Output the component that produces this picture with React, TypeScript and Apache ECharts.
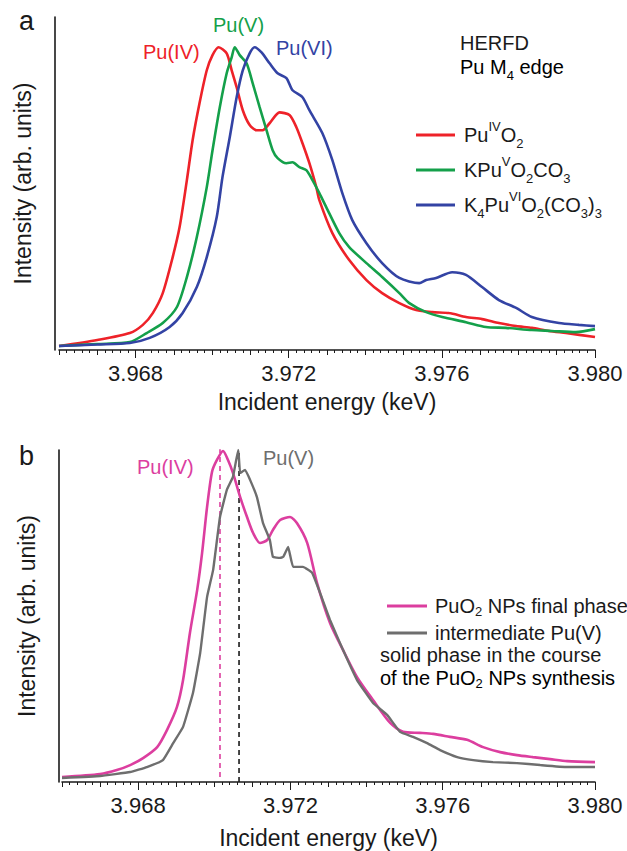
import React, { useEffect, useRef } from "react";
import * as echarts from "echarts";

// ---------- data (energy keV, normalized intensity) ----------
const puIVO2: [number, number][] = [
  [3.966, 0.013], [3.967, 0.033], [3.96785, 0.056], [3.96819, 0.083], [3.96845, 0.122], [3.96871, 0.188],
  [3.96897, 0.307], [3.96915, 0.406], [3.96934, 0.561], [3.96949, 0.693], [3.96967, 0.815], [3.96986, 0.924],
  [3.97001, 0.974], [3.97017, 1.0], [3.97038, 0.98], [3.97051, 0.924], [3.97064, 0.868], [3.9708, 0.792],
  [3.97098, 0.743], [3.97116, 0.726], [3.97132, 0.726], [3.9715, 0.749], [3.97176, 0.785], [3.97202, 0.776],
  [3.9722, 0.736], [3.97236, 0.683], [3.97254, 0.617], [3.97272, 0.538], [3.9728, 0.495], [3.97314, 0.386],
  [3.97358, 0.297], [3.97403, 0.231], [3.97444, 0.188], [3.97489, 0.155], [3.97533, 0.132], [3.97575, 0.125],
  [3.97619, 0.122], [3.97663, 0.109], [3.97705, 0.102], [3.97749, 0.089], [3.97794, 0.079], [3.97835, 0.073],
  [3.9788, 0.063], [3.97924, 0.056], [3.98, 0.043],
];
const kPuVO2CO3: [number, number][] = [
  [3.966, 0.013], [3.967, 0.02], [3.96785, 0.026], [3.96829, 0.056], [3.96871, 0.089], [3.96908, 0.142],
  [3.96934, 0.241], [3.9696, 0.373], [3.96986, 0.538], [3.97001, 0.66], [3.9702, 0.802], [3.97038, 0.914],
  [3.97051, 0.967], [3.97059, 1.0], [3.97072, 0.974], [3.9709, 0.947], [3.97106, 0.881], [3.97124, 0.802],
  [3.97142, 0.726], [3.97158, 0.66], [3.97171, 0.634], [3.97194, 0.617], [3.9721, 0.62], [3.97228, 0.604],
  [3.97246, 0.594], [3.97262, 0.561], [3.9728, 0.518], [3.97298, 0.472], [3.97332, 0.386], [3.97358, 0.34],
  [3.97403, 0.287], [3.97444, 0.241], [3.97489, 0.188], [3.97515, 0.155], [3.97559, 0.125], [3.97601, 0.109],
  [3.97663, 0.092], [3.97715, 0.076], [3.97767, 0.073], [3.97835, 0.066], [3.97887, 0.063], [3.9795, 0.059],
  [3.98, 0.069],
];
const k4PuVIO2CO33: [number, number][] = [
  [3.966, 0.013], [3.967, 0.018], [3.96785, 0.023], [3.96837, 0.04], [3.96889, 0.076], [3.96923, 0.122],
  [3.9696, 0.208], [3.96986, 0.307], [3.97012, 0.439], [3.97027, 0.571], [3.97046, 0.703], [3.97064, 0.835],
  [3.9708, 0.924], [3.97098, 0.98], [3.97111, 1.0], [3.97129, 0.983], [3.9715, 0.947], [3.97171, 0.914],
  [3.97194, 0.898], [3.9721, 0.858], [3.97236, 0.835], [3.97254, 0.792], [3.97288, 0.716], [3.97314, 0.627],
  [3.9734, 0.518], [3.97366, 0.429], [3.97403, 0.353], [3.97444, 0.287], [3.97489, 0.238], [3.97541, 0.221],
  [3.97559, 0.231], [3.97585, 0.238], [3.97627, 0.257], [3.97663, 0.248], [3.97705, 0.208], [3.97749, 0.165],
  [3.97794, 0.139], [3.97835, 0.109], [3.97906, 0.089], [3.97958, 0.083], [3.98, 0.079],
];
const puO2NPs: [number, number][] = [
  [3.966, 0.015], [3.967, 0.024], [3.96744, 0.036], [3.96779, 0.051], [3.96813, 0.072], [3.9685, 0.105],
  [3.96876, 0.157], [3.96902, 0.226], [3.96918, 0.307], [3.96936, 0.449], [3.96955, 0.578], [3.96968, 0.69],
  [3.96981, 0.828], [3.96994, 0.934], [3.97007, 0.97], [3.97023, 0.997], [3.97036, 0.97], [3.97049, 0.931],
  [3.97068, 0.858], [3.97086, 0.798], [3.97102, 0.75], [3.9712, 0.72], [3.97139, 0.729], [3.97154, 0.759],
  [3.97173, 0.789], [3.97199, 0.798], [3.97217, 0.78], [3.97244, 0.72], [3.9727, 0.599], [3.97304, 0.479],
  [3.97338, 0.398], [3.97375, 0.316], [3.97417, 0.247], [3.97462, 0.178], [3.97496, 0.151], [3.9754, 0.148],
  [3.97575, 0.145], [3.97619, 0.136], [3.97664, 0.127], [3.97706, 0.105], [3.97751, 0.09], [3.97795, 0.081],
  [3.97837, 0.075], [3.97882, 0.069], [3.97927, 0.063], [3.98, 0.06],
];
const intermediatePuV: [number, number][] = [
  [3.966, 0.012], [3.967, 0.018], [3.96779, 0.03], [3.96823, 0.045], [3.96865, 0.066], [3.96892, 0.117],
  [3.96918, 0.166], [3.96944, 0.268], [3.96963, 0.389], [3.96981, 0.557], [3.96997, 0.639], [3.97015, 0.798],
  [3.97033, 0.88], [3.97049, 0.919], [3.97063, 1.0], [3.97068, 0.931], [3.97081, 0.94], [3.97094, 0.91],
  [3.97112, 0.858], [3.97128, 0.78], [3.97146, 0.729], [3.97154, 0.678], [3.97173, 0.675], [3.97181, 0.678],
  [3.97194, 0.708], [3.97207, 0.648], [3.97233, 0.648], [3.97257, 0.63], [3.97278, 0.569], [3.97304, 0.488],
  [3.97338, 0.398], [3.97375, 0.307], [3.97417, 0.238], [3.97454, 0.202], [3.97488, 0.151], [3.97522, 0.136],
  [3.97559, 0.117], [3.97593, 0.096], [3.97638, 0.075], [3.9768, 0.066], [3.97732, 0.06], [3.97795, 0.057],
  [3.97856, 0.051], [3.97927, 0.045], [3.98, 0.045],
];
const peakPuIV = 3.97015;
const peakPuV = 3.97065;
const xMin = 3.966;
const xMax = 3.98;
const labeledTicks = [3.968, 3.972, 3.976, 3.98];

const seriesNames = ["PuIVO2", "KPuVO2CO3", "K4PuVIO2(CO3)3", "PuO2 NPs final phase", "intermediate Pu(V)"];
const legendRich: Record<string, string> = {
  PuIVO2: "{b|Pu}{sp|IV}{b|O}{sb|2}",
  KPuVO2CO3: "{b|KPu}{sp|V}{b|O}{sb|2}{b|CO}{sb|3}",
  "K4PuVIO2(CO3)3": "{b|K}{sb|4}{b|Pu}{sp|VI}{b|O}{sb|2}{b|(CO}{sb|3}{b|)}{sb|3}",
  "PuO2 NPs final phase": "{c|PuO}{sc|2}{c| NPs final phase}",
  "intermediate Pu(V)": "{c|intermediate Pu(V)}",
};

const RED = "#ee2229";
const GREEN = "#14a04a";
const BLUE = "#3343a4";
const PINK = "#dc3e9f";
const GRAY = "#6e6e6e";
const INK = "#1a1a1a";
const FONT = '"Liberation Sans", Arial, Helvetica, sans-serif';

const rich = {
  b: { fontSize: 20, lineHeight: 30, fontFamily: FONT, color: INK },
  sp: { fontSize: 13, lineHeight: 13, verticalAlign: "top", fontFamily: FONT, color: INK },
  sb: { fontSize: 13, lineHeight: 13, verticalAlign: "bottom", fontFamily: FONT, color: INK },
  c: { fontSize: 20, lineHeight: 24, fontFamily: FONT, color: INK },
  sc: { fontSize: 13, lineHeight: 11, verticalAlign: "bottom", fontFamily: FONT, color: INK },
};

function xAxesFor(grid: number, nameGap: number) {
  const fmt = (v: number) => v.toFixed(3);
  return [
    {
      type: "value", gridIndex: grid, min: xMin, max: xMax, interval: 0.001,
      axisLine: { show: true, lineStyle: { color: INK, width: 1.6 } },
      axisTick: { show: true, length: 5, lineStyle: { color: INK, width: 1 } },
      minorTick: { show: true, splitNumber: 5, length: 3, lineStyle: { color: INK, width: 1 } },
      axisLabel: { show: false }, splitLine: { show: false }, minorSplitLine: { show: false },
    },
    {
      type: "value", gridIndex: grid, position: "bottom", min: xMin, max: xMax,
      axisLine: { show: false },
      axisTick: { show: true, customValues: labeledTicks, length: 8, lineStyle: { color: INK, width: 1 } },
      axisLabel: { customValues: labeledTicks, formatter: fmt, fontSize: 22, fontFamily: FONT, color: INK, margin: 12 },
      splitLine: { show: false },
      name: "Incident energy (keV)", nameLocation: "middle", nameGap,
      nameTextStyle: { fontSize: 23, fontFamily: FONT, color: INK },
    },
  ];
}

function yAxisFor(grid: number, max: number, offset: number) {
  return {
    type: "value", gridIndex: grid, min: 0, max, offset,
    axisLine: { show: true, lineStyle: { color: INK, width: 1.6 } },
    axisTick: { show: false }, axisLabel: { show: false }, splitLine: { show: false },
    name: "Intensity (arb. units)", nameLocation: "middle", nameGap: 21,
    nameTextStyle: { fontSize: 23, fontFamily: FONT, color: INK },
  };
}

function lineSeries(name: string, data: [number, number][], color: string, xi: number, yi: number, extra: any = {}) {
  return {
    type: "line", name, data, xAxisIndex: xi, yAxisIndex: yi, showSymbol: false, smooth: 0.25,
    lineStyle: { color, width: 2.6 }, itemStyle: { color }, z: 3, ...extra,
  };
}

function dashedSeries(x: number, y0: number, y1: number, color: string) {
  return {
    type: "line", data: [[x, y0], [x, y1]], xAxisIndex: 2, yAxisIndex: 1, showSymbol: false, silent: true,
    lineStyle: { color, width: 1.6, type: [5, 4] }, z: 2,
  };
}

function txt(x: number, y: number, text: string, color: string, size = 20, extra: any = {}) {
  return {
    type: "text", x, y, silent: true,
    style: { text, fill: color, fontSize: size, fontFamily: FONT, textVerticalAlign: "middle", textAlign: "left", ...extra },
  };
}

export default function App() {
  const ref = useRef<HTMLDivElement>(null);
  useEffect(() => {
    if (!ref.current) return;
    const chart = echarts.init(ref.current, undefined, { renderer: "svg" });
    const option: any = {
      animation: false,
      backgroundColor: "#ffffff",
      grid: [
        { left: 59, right: 32, top: 17, height: 333 },
        { left: 62, right: 32, top: 450, height: 332 },
      ],
      xAxis: [...xAxesFor(0, 40), ...xAxesFor(1, 44)],
      yAxis: [yAxisFor(0, 1.1, 4), yAxisFor(1, 1.0, 3)],
      legend: [
        {
          data: seriesNames.slice(0, 3), left: 411, top: 115, orient: "vertical",
          icon: "rect", itemWidth: 39, itemHeight: 3, itemGap: 5, selectedMode: false,
          formatter: (n: string) => legendRich[n],
          textStyle: { rich, padding: [0, 0, 0, 4] },
        },
        {
          data: seriesNames.slice(3), left: 382, top: 591, orient: "vertical",
          icon: "rect", itemWidth: 40, itemHeight: 3, itemGap: 5, selectedMode: false,
          formatter: (n: string) => legendRich[n],
          textStyle: { rich, padding: [0, 0, 0, 3] },
        },
      ],
      series: [
        lineSeries(seriesNames[0], puIVO2, RED, 0, 0),
        lineSeries(seriesNames[1], kPuVO2CO3, GREEN, 0, 0),
        lineSeries(seriesNames[2], k4PuVIO2CO33, BLUE, 0, 0),
        dashedSeries(peakPuIV, 0.015, 1.006, PINK),
        dashedSeries(peakPuV, 0, 1.006, INK),
        lineSeries(seriesNames[3], puO2NPs, PINK, 2, 1),
        lineSeries(seriesNames[4], intermediatePuV, GRAY, 2, 1, { lineStyle: { color: GRAY, width: 2.4 }, smooth: 0.1 }),
      ],
      graphic: [
        txt(19, 21, "a", INK, 27),
        txt(19, 456, "b", INK, 27),
        txt(143, 52, "Pu(IV)", RED),
        txt(213, 25, "Pu(V)", GREEN),
        txt(276, 48, "Pu(VI)", BLUE),
        txt(460, 43, "HERFD", INK),
        { type: "text", x: 460, y: 52, silent: true, style: { text: "{b|Pu M}{sb|4}{b| edge}", rich, fontFamily: FONT } },
        txt(137, 467, "Pu(IV)", PINK),
        txt(263, 458, "Pu(V)", GRAY),
        txt(380, 655, "solid phase in the course", INK),
        { type: "text", x: 380, y: 666, silent: true, style: { text: "{c|of the PuO}{sc|2}{c| NPs synthesis}", rich, fontFamily: FONT } },
      ],
    };
    chart.setOption(option);
    return () => chart.dispose();
  }, []);
  return <div ref={ref} style={{ position: "fixed", left: 0, top: 0, width: 627, height: 851 }} />;
}
